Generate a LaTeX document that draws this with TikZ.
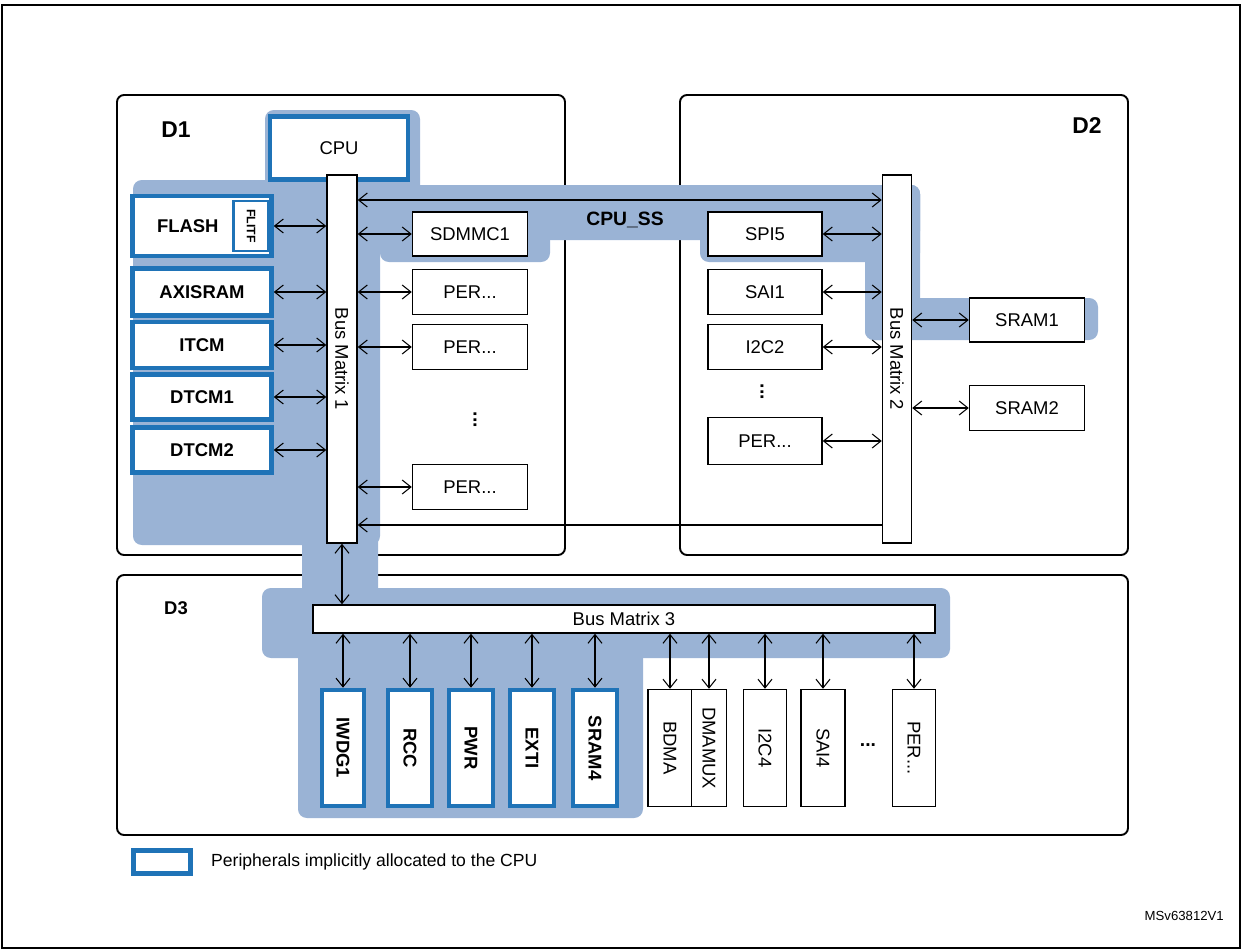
\documentclass[tikz,border=0pt]{standalone}
\usepackage{fontspec}
\setmainfont{Liberation Sans}
\usetikzlibrary{arrows.meta}
\definecolor{ssfill}{HTML}{9AB3D5}
\definecolor{cpublue}{HTML}{1F73B7}
\begin{document}
\begin{tikzpicture}[x=0.02cm,y=-0.02cm,
  box/.style 2 args={shape=rectangle,draw=black,fill=white,thick,minimum width=#1*0.02cm,minimum height=#2*0.02cm,inner sep=0pt,font=\fontsize{10.5}{11}\selectfont},
  cpubox/.style 2 args={box={#1}{#2},draw=cpublue,line width=2.6pt,font=\fontsize{10.5}{11}\selectfont\bfseries},
  vbox/.style 2 args={box={#2}{#1},rotate=-90},
  vcpubox/.style 2 args={cpubox={#2}{#1},rotate=-90},
  dombox/.style={draw=black,line width=1.1pt,rounded corners=4pt},
  dots/.style={font=\fontsize{11}{11}\selectfont\bfseries},
  link/.style={{Straight Barb[length=5pt,width=8pt]}-{Straight Barb[length=5pt,width=8pt]},semithick},
  link1/.style={-{Straight Barb[length=5pt,width=8pt]},semithick}]
\useasboundingbox (0,0) rectangle (1242,950);
\draw[thick] (2,5) rectangle (1240,948);

% domains
\draw[dombox] (117,95) rectangle (565,555);
\draw[dombox] (680,95) rectangle (1128,555);
\draw[dombox] (117,575) rectangle (1128,835);
\node[font=\fontsize{13}{13}\selectfont\bfseries] (d1) at (176,130) {D1};
\node[font=\fontsize{13}{13}\selectfont\bfseries] (d2) at (1087,126) {D2};
\node[font=\fontsize{10.5}{11}\selectfont\bfseries] (d3) at (176,608) {D3};

% CPU_SS area
\begin{scope}[fill=ssfill,rounded corners=5pt]
\fill (265,110) rectangle (420,200);
\fill (133,180) rectangle (380,545);
\fill (380,185) rectangle (920,240);
\fill (380,185) rectangle (550,262);
\fill (700,185) rectangle (920,262);
\fill (865,185) rectangle (920,340);
\fill (865,298) rectangle (1098,340);
\fill (302,530) rectangle (378,600);
\fill (262,588) rectangle (950,658);
\fill (298,588) rectangle (643,818);
\end{scope}
\node[font=\fontsize{11}{11}\selectfont\bfseries] (ss) at (625,220) {CPU\_SS};

% D1
\node[cpubox={138}{63},font=\fontsize{10.5}{11}\selectfont] (cpu) at (339,148) {CPU};
\node[box={30}{368}] (bm1) at (342,359) {};
\node[rotate=-90,font=\fontsize{10.5}{11}\selectfont] at (bm1) {Bus Matrix 1};
\node[cpubox={139}{60},text width=1.8cm,align=left,inner sep=3pt] (flash) at (202,226) {FLASH};
\node[box={35}{50},rotate=-90,draw=cpublue,line width=1.2pt,font=\fontsize{7}{7}\selectfont\bfseries,minimum width=50*0.02cm,minimum height=35*0.02cm] (flitf) at (251,226) {FLITF};
\node[cpubox={139}{47}] (axisram) at (202,292) {AXISRAM};
\node[cpubox={139}{46}] (itcm) at (202,345) {ITCM};
\node[cpubox={139}{45}] (dtcm1) at (202,397) {DTCM1};
\node[cpubox={139}{45}] (dtcm2) at (202,450) {DTCM2};
\foreach \m in {flash,axisram,itcm,dtcm1,dtcm2}
  \draw[link] (\m.east) -- (bm1.west |- \m.east);
\node[box={115}{44}] (sdmmc) at (470,234) {SDMMC1};
\node[box={115}{45}] (pera) at (470,292) {PER...};
\node[box={115}{45}] (perb) at (470,347) {PER...};
\node[dots,rotate=-90] (dotsa) at (475,420) {...};
\node[box={115}{45}] (perc) at (470,487) {PER...};
\foreach \m in {sdmmc,pera,perb,perc}
  \draw[link] (bm1.east |- \m.west) -- (\m.west);

% D2
\node[box={29}{368}] (bm2) at (897,359) {};
\node[rotate=-90,font=\fontsize{10.5}{11}\selectfont] at (bm2) {Bus Matrix 2};
\node[box={114}{44}] (spi) at (765,234) {SPI5};
\node[box={114}{45}] (sai) at (765,292) {SAI1};
\node[box={114}{45}] (iic) at (765,347) {I2C2};
\node[dots,rotate=-90] (dotsb) at (762,392) {...};
\node[box={114}{47}] (perd) at (765,441) {PER...};
\foreach \m in {spi,sai,iic,perd}
  \draw[link] (\m.east) -- (bm2.west |- \m.east);
\node[box={115}{44}] (srama) at (1027,320) {SRAM1};
\node[box={115}{45}] (sramb) at (1027,408) {SRAM2};
\foreach \m in {srama,sramb}
  \draw[link] (bm2.east |- \m.west) -- (\m.west);
\coordinate (top1) at (357,200);
\coordinate (bot1) at (357,525);
\draw[link] (bm1.east |- top1) -- (bm2.west |- top1);
\draw[link1] (bm2.west |- bot1) -- (bm1.east |- bot1);

% D3
\node[box={622}{28}] (bm3) at (624,619) {Bus Matrix 3};
\draw[link] (bm1.south) -- (bm1.south |- bm3.north);
\node[vcpubox={42}{116}] (iwdg) at (343,748) {IWDG1};
\node[vcpubox={44}{116}] (rcc) at (410,748) {RCC};
\node[vcpubox={44}{116}] (pwr) at (471,748) {PWR};
\node[vcpubox={44}{116}] (exti) at (532,748) {EXTI};
\node[vcpubox={44}{116}] (sram) at (595,748) {SRAM4};
\node[vbox={44}{117}] (bdma) at (670,748) {BDMA};
\node[vbox={35}{117}] (dmamux) at (709,748) {DMAMUX};
\node[vbox={43}{117}] (iicd) at (765,748) {I2C4};
\node[vbox={44}{117}] (said) at (823,748) {SAI4};
\node[dots] (dotsc) at (868,745) {...};
\node[vbox={43}{117}] (pere) at (914,748) {PER...};
\foreach \m in {iwdg,rcc,pwr,exti,sram,bdma,dmamux,iicd,said,pere}
  \draw[link] (bm3.south -| \m.center) -- (\m.west);

% legend
\node[cpubox={57}{23}] (leg) at (162,862) {};
\node[anchor=west,font=\fontsize{10}{11}\selectfont] (legtext) at (205,862) {Peripherals implicitly allocated to the CPU};
\node[anchor=east,font=\fontsize{7.5}{8}\selectfont] (ref) at (1230,916) {MSv63812V1};
\end{tikzpicture}
\end{document}
